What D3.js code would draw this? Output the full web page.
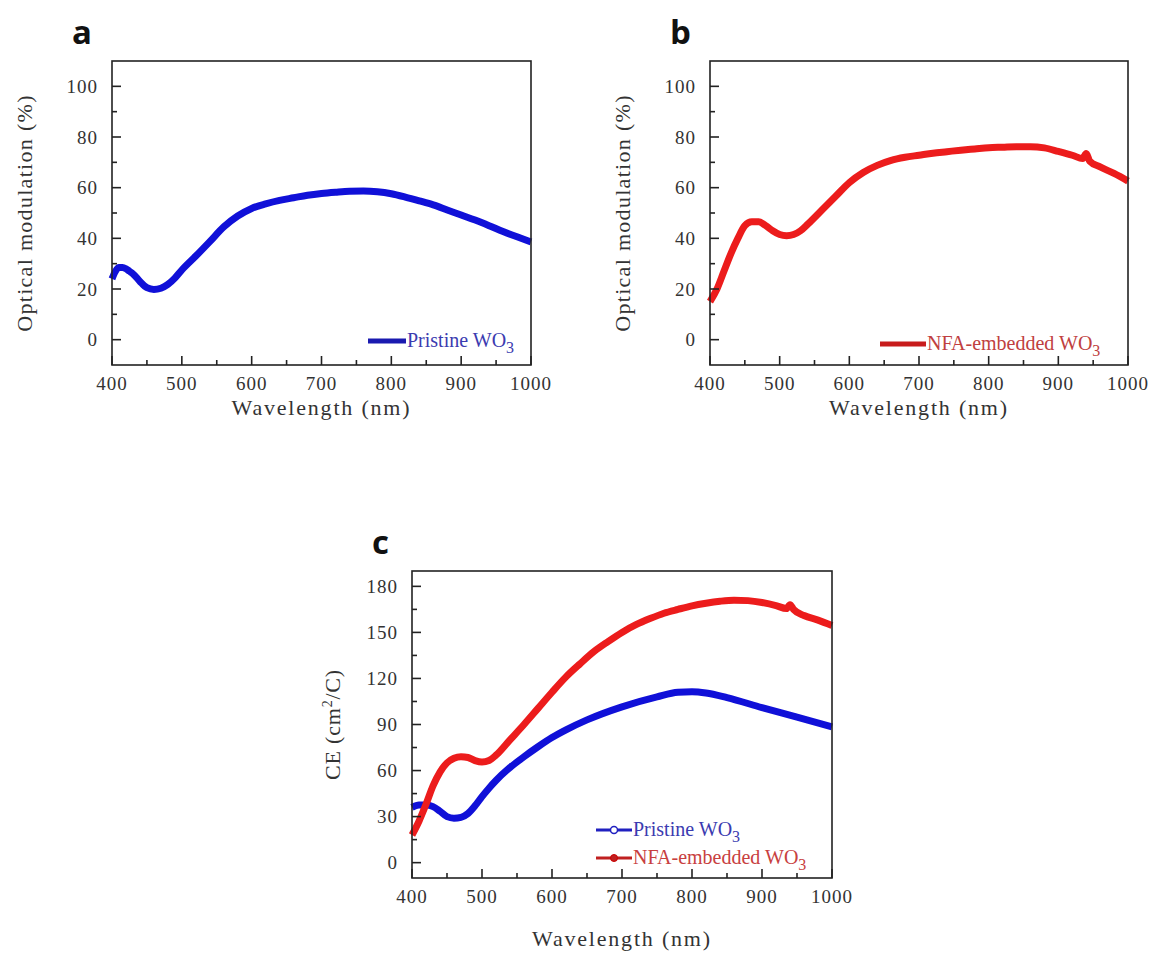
<!DOCTYPE html>
<html><head><meta charset="utf-8">
<script src="https://cdn.jsdelivr.net/npm/d3@7"></script>
<style>
html,body{margin:0;padding:0;background:#fff;}
svg{display:block;}
text{font-family:"Liberation Serif","Times New Roman",serif;fill:#333;}
.plabel{font-family:"Open Sans","Noto Sans",sans-serif;font-weight:700;fill:#111;}
</style></head>
<body>
<svg id="chart" width="1157" height="963"></svg>
<script>
// ---------- DATA ----------
const wavelengthTicks = [400,500,600,700,800,900,1000];
const omTicks = [0,20,40,60,80,100];
const ceTicks = [0,30,60,90,120,150,180];

const omPristineWl = [400,405,410,415,420,425,430,440,450,460,470,480,490,500,520,540,560,580,600,620,640,660,680,700,720,740,760,780,800,820,840,860,880,900,920,940,960,980,1000];
const omPristine   = [24,27,28.5,28.5,28,27,26,23,20.5,19.8,20.3,21.8,24.3,27.5,33,38.7,44.5,48.8,51.8,53.6,55,56,57,57.7,58.2,58.6,58.7,58.4,57.6,56.3,54.8,53.2,51.2,49.2,47.2,45,42.7,40.6,38.6];

const omNfaWl = [400,410,420,430,440,450,460,470,480,490,500,510,520,530,540,560,580,600,620,640,660,680,700,720,740,760,780,800,820,840,860,880,900,920,935,940,945,960,980,1000];
const omNfa   = [15,20,27,34,40,45,46.5,46.5,45,43,41.5,41,41.5,43,45.5,51,56.5,62,66,68.8,70.8,72,72.8,73.6,74.2,74.8,75.3,75.8,76,76.2,76.2,75.7,74.3,72.8,71.5,73.5,70.5,68.2,65.6,62.6];

const cePristineWl = [400,410,420,430,440,450,460,470,480,490,500,510,520,540,560,580,600,620,650,700,750,780,800,820,850,900,950,1000];
const cePristine   = [36,37.5,37.5,36.5,33.5,30,29,29.5,32,37,43,48.5,53.5,62,69,75.5,81.5,86.5,93,101.5,108,111,111.3,110.5,107.5,101,94.8,88.5];

const ceNfaWl = [400,410,420,430,440,450,460,470,480,490,500,510,520,540,560,580,600,620,640,660,680,700,720,740,760,780,800,820,840,860,880,900,920,935,940,945,960,980,1000];
const ceNfa   = [18,27,38,50,59,65,68,69,68.5,66.5,65.5,66.5,70,80,90,100.5,111,121,129.5,137.5,144,150,155,159,162.5,165,167.3,169,170.3,171,170.7,169.5,167.5,165.5,168,165,161,158,154.5];

const seriesNames = ["Pristine WO", "NFA-embedded WO"];
const blue = "#1010d8", red = "#ec1c1c";

// ---------- DRAW ----------
const svg = d3.select("#chart");

function panel(o){
  const g = svg.append("g");
  const x = d3.scaleLinear().domain([400,1000]).range([o.left,o.right]);
  const y = d3.scaleLinear().domain(o.ydom).range([o.bottom,o.top]);

  o.series.forEach(s=>{
    const line = d3.line().x((d,i)=>x(s.wl[i])).y(d=>y(d)).curve(d3.curveMonotoneX);
    g.append("path").attr("d",line(s.v)).attr("fill","none")
      .attr("stroke",s.color).attr("stroke-width",7).attr("stroke-linejoin","round");
  });

  g.append("rect").attr("x",o.left).attr("y",o.top).attr("width",o.right-o.left)
    .attr("height",o.bottom-o.top).attr("fill","none").attr("stroke","#222").attr("stroke-width",1.6);

  const minorX = d3.range(450,1000,100);
  g.selectAll(null).data(wavelengthTicks).enter().append("line")
    .attr("x1",d=>x(d)).attr("x2",d=>x(d)).attr("y1",o.bottom).attr("y2",o.bottom-9)
    .attr("stroke","#222").attr("stroke-width",1.6);
  g.selectAll(null).data(minorX).enter().append("line")
    .attr("x1",d=>x(d)).attr("x2",d=>x(d)).attr("y1",o.bottom).attr("y2",o.bottom-5)
    .attr("stroke","#222").attr("stroke-width",1.6);
  g.selectAll(null).data(wavelengthTicks).enter().append("text")
    .attr("x",d=>x(d)).attr("y",o.bottom+25).attr("text-anchor","middle")
    .attr("font-size",19).attr("letter-spacing",1).text(d=>d);

  g.selectAll(null).data(o.yticks).enter().append("line")
    .attr("x1",o.left).attr("x2",o.left+9).attr("y1",d=>y(d)).attr("y2",d=>y(d))
    .attr("stroke","#222").attr("stroke-width",1.6);
  g.selectAll(null).data(o.yminor).enter().append("line")
    .attr("x1",o.left).attr("x2",o.left+5).attr("y1",d=>y(d)).attr("y2",d=>y(d))
    .attr("stroke","#222").attr("stroke-width",1.6);
  g.selectAll(null).data(o.yticks).enter().append("text")
    .attr("x",o.left-14).attr("y",d=>y(d)+6.5).attr("text-anchor","end")
    .attr("font-size",19).attr("letter-spacing",1).text(d=>d);

  g.append("text").attr("x",(o.left+o.right)/2).attr("y",o.bottom+o.xtOff)
    .attr("text-anchor","middle").attr("font-size",22).attr("letter-spacing",1.8)
    .text("Wavelength (nm)");
  const yt = g.append("text").attr("transform",`translate(${o.left-o.ytOff},${(o.top+o.bottom)/2}) rotate(-90)`)
    .attr("text-anchor","middle").attr("font-size",22).attr("letter-spacing",o.ylsp);
  o.ytitle(yt);

  g.append("text").attr("class","plabel").attr("x",o.left-40).attr("y",o.top-17)
    .attr("font-size",33).text(o.letter);
  return {x,y,g};
}

const A = panel({left:112,right:531,top:61,bottom:365,ydom:[-10,110],
  yticks:omTicks,yminor:[10,30,50,70,90],letter:"a",ylsp:1.3,xtOff:50,ytOff:80,
  series:[{wl:omPristineWl,v:omPristine,color:blue}],
  ytitle:t=>t.text("Optical modulation (%)")});
const B = panel({left:710,right:1128,top:61,bottom:365,ydom:[-10,110],
  yticks:omTicks,yminor:[10,30,50,70,90],letter:"b",ylsp:1.3,xtOff:50,ytOff:80,
  series:[{wl:omNfaWl,v:omNfa,color:red}],
  ytitle:t=>t.text("Optical modulation (%)")});
const C = panel({left:412,right:832,top:571,bottom:878,ydom:[-10,190],
  yticks:ceTicks,yminor:[15,45,75,105,135,165],letter:"c",ylsp:0.8,xtOff:68,ytOff:72,
  series:[{wl:cePristineWl,v:cePristine,color:blue},{wl:ceNfaWl,v:ceNfa,color:red}],
  ytitle:t=>{t.append("tspan").text("CE (cm");
    t.append("tspan").attr("dy",-8).attr("font-size",14).text("2");
    t.append("tspan").attr("dy",8).text("/C)");}});

function legendItem(g,x0,x1,yy,color,txtColor,name,marker){
  g.append("line").attr("x1",x0).attr("x2",x1).attr("y1",yy).attr("y2",yy)
    .attr("stroke",color).attr("stroke-width",marker?3:5);
  if(marker==="circle") g.append("circle").attr("cx",(x0+x1)/2).attr("cy",yy).attr("r",3.5)
    .attr("fill","#fff").attr("stroke",color).attr("stroke-width",1.5);
  if(marker==="dot") g.append("circle").attr("cx",(x0+x1)/2).attr("cy",yy).attr("r",3.5)
    .attr("fill",color).attr("stroke","#c00").attr("stroke-width",1);
  const t = g.append("text").attr("x",x1+1).attr("y",yy+6).attr("font-size",20).style("fill",txtColor);
  t.append("tspan").text(name);
  t.append("tspan").attr("dy",6).attr("font-size",16).text("3");
}
legendItem(A.g,368,406,341,"#1a1ab0","#3b3bb0",seriesNames[0]);
legendItem(B.g,880,926,344,"#c81c1c","#c04040",seriesNames[1]);
legendItem(C.g,596,632,830,"#2020c0","#3b3bb0",seriesNames[0],"circle");
legendItem(C.g,596,632,858,"#c02020","#c84040",seriesNames[1],"dot");
</script>
</body></html>
